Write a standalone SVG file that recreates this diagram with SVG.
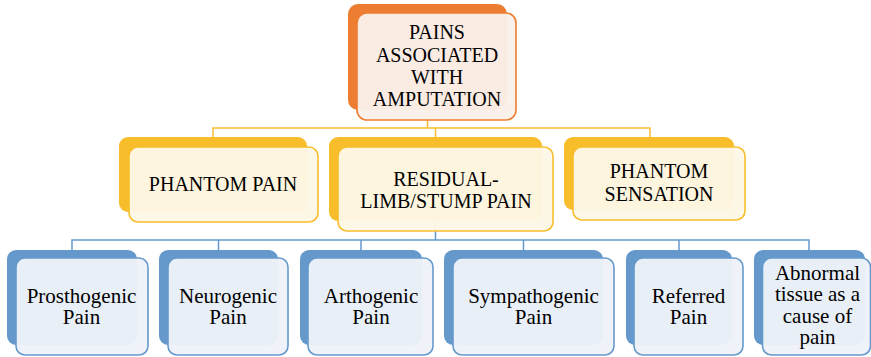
<svg xmlns="http://www.w3.org/2000/svg" width="871" height="357" viewBox="0 0 871 357">
  <rect width="871" height="357" fill="#ffffff"/>

  <!-- connectors -->
  <g id="connectors" fill="none" stroke-width="1.5">
    <path stroke="#F8BD2B" d="M427.5,110 V128 M213,137 V128 H650 V137 M435.5,128 V137"/>
    <path stroke="#6599CC" d="M435.5,221 V240 M72,250 V240 H809 V250 M218.5,240 V250 M361,240 V250 M523.5,240 V250 M679,240 V250"/>
  </g>

  <!-- root -->
  <g id="root">
    <rect fill="#ED7D31" x="348" y="4" width="159" height="106" rx="10"/>
    <rect fill="#FAF0EA" fill-opacity="0.96" stroke="#ED7D31" stroke-width="1.6" x="357" y="13" width="159" height="107" rx="10"/>
    <text font-family="Liberation Serif" font-size="20" text-anchor="middle" x="437" y="39">PAINS</text>
    <text font-family="Liberation Serif" font-size="20" text-anchor="middle" x="437" y="61.5">ASSOCIATED</text>
    <text font-family="Liberation Serif" font-size="20" text-anchor="middle" x="437" y="83.5">WITH</text>
    <text font-family="Liberation Serif" font-size="20" text-anchor="middle" x="437" y="106">AMPUTATION</text>
  </g>

  <!-- second level -->
  <g id="phantom-pain">
    <rect fill="#F8BD2B" x="119" y="137" width="188" height="75" rx="9"/>
    <rect fill="#FDF7E6" fill-opacity="0.96" stroke="#F8BD2B" stroke-width="1.6" x="129" y="147" width="189" height="75" rx="9"/>
    <text font-family="Liberation Serif" font-size="20" text-anchor="middle" x="223" y="191">PHANTOM PAIN</text>
  </g>
  <g id="residual-limb">
    <rect fill="#F8BD2B" x="329" y="137" width="213" height="84" rx="9"/>
    <rect fill="#FDF7E6" fill-opacity="0.96" stroke="#F8BD2B" stroke-width="1.6" x="338" y="147" width="215" height="84" rx="9"/>
    <text font-family="Liberation Serif" font-size="20" text-anchor="middle" x="446" y="186">RESIDUAL-</text>
    <text font-family="Liberation Serif" font-size="20" text-anchor="middle" x="446" y="208">LIMB/STUMP PAIN</text>
  </g>
  <g id="phantom-sensation">
    <rect fill="#F8BD2B" x="564" y="137" width="170" height="73" rx="9"/>
    <rect fill="#FDF7E6" fill-opacity="0.96" stroke="#F8BD2B" stroke-width="1.6" x="573" y="147" width="172" height="73" rx="9"/>
    <text font-family="Liberation Serif" font-size="20" text-anchor="middle" x="659" y="178">PHANTOM</text>
    <text font-family="Liberation Serif" font-size="20" text-anchor="middle" x="659" y="201">SENSATION</text>
  </g>

  <!-- third level -->
  <g id="prosthogenic">
    <rect fill="#6599CC" x="7" y="250" width="130" height="95" rx="9"/>
    <rect fill="#EEF3F9" fill-opacity="0.96" stroke="#6599CC" stroke-width="1.6" x="16" y="258" width="132" height="97" rx="9"/>
    <text font-family="Liberation Serif" font-size="21" text-anchor="middle" x="81.5" y="303">Prosthogenic</text>
    <text font-family="Liberation Serif" font-size="21" text-anchor="middle" x="81.5" y="324">Pain</text>
  </g>
  <g id="neurogenic">
    <rect fill="#6599CC" x="159" y="250" width="119" height="95" rx="9"/>
    <rect fill="#EEF3F9" fill-opacity="0.96" stroke="#6599CC" stroke-width="1.6" x="168" y="258" width="120" height="97" rx="9"/>
    <text font-family="Liberation Serif" font-size="21" text-anchor="middle" x="228" y="303">Neurogenic</text>
    <text font-family="Liberation Serif" font-size="21" text-anchor="middle" x="228" y="324">Pain</text>
  </g>
  <g id="arthogenic">
    <rect fill="#6599CC" x="300" y="250" width="122" height="95" rx="9"/>
    <rect fill="#EEF3F9" fill-opacity="0.96" stroke="#6599CC" stroke-width="1.6" x="308" y="258" width="125" height="97" rx="9"/>
    <text font-family="Liberation Serif" font-size="21" text-anchor="middle" x="371" y="303">Arthogenic</text>
    <text font-family="Liberation Serif" font-size="21" text-anchor="middle" x="371" y="324">Pain</text>
  </g>
  <g id="sympathogenic">
    <rect fill="#6599CC" x="444" y="250" width="159" height="95" rx="9"/>
    <rect fill="#EEF3F9" fill-opacity="0.96" stroke="#6599CC" stroke-width="1.6" x="453" y="258" width="161" height="97" rx="9"/>
    <text font-family="Liberation Serif" font-size="21" text-anchor="middle" x="533.5" y="303">Sympathogenic</text>
    <text font-family="Liberation Serif" font-size="21" text-anchor="middle" x="533.5" y="324">Pain</text>
  </g>
  <g id="referred">
    <rect fill="#6599CC" x="626" y="250" width="106" height="95" rx="9"/>
    <rect fill="#EEF3F9" fill-opacity="0.96" stroke="#6599CC" stroke-width="1.6" x="634" y="258" width="109" height="97" rx="9"/>
    <text font-family="Liberation Serif" font-size="21" text-anchor="middle" x="688.5" y="303">Referred</text>
    <text font-family="Liberation Serif" font-size="21" text-anchor="middle" x="688.5" y="324">Pain</text>
  </g>
  <g id="abnormal-tissue">
    <rect fill="#6599CC" x="754" y="250" width="111" height="95" rx="9"/>
    <rect fill="#EEF3F9" fill-opacity="0.96" stroke="#6599CC" stroke-width="1.6" x="762.5" y="258" width="108" height="97" rx="9"/>
    <text font-family="Liberation Serif" font-size="21" text-anchor="middle" x="817.5" y="280">Abnormal</text>
    <text font-family="Liberation Serif" font-size="21" text-anchor="middle" x="817.5" y="301">tissue as a</text>
    <text font-family="Liberation Serif" font-size="21" text-anchor="middle" x="817.5" y="323">cause of</text>
    <text font-family="Liberation Serif" font-size="21" text-anchor="middle" x="817.5" y="344">pain</text>
  </g>
</svg>
